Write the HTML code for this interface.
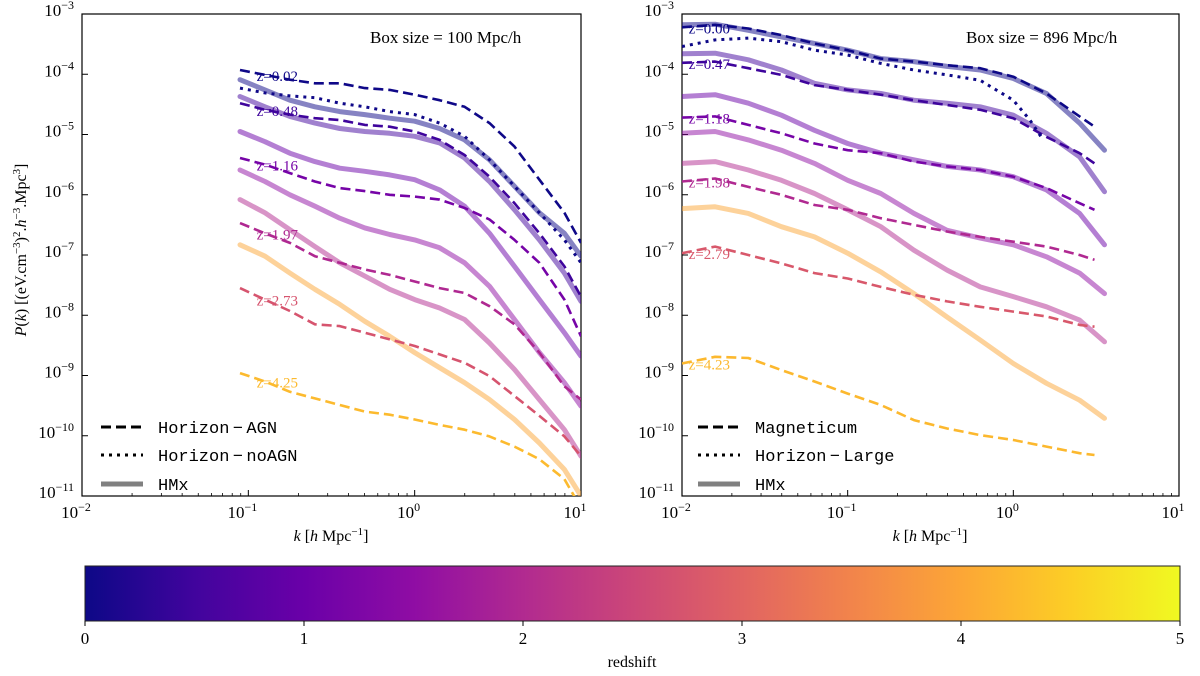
<!DOCTYPE html>
<html><head><meta charset="utf-8"><style>
body{margin:0;background:#fff;width:1200px;height:676px;overflow:hidden}
svg{display:block}
text{font-family:"Liberation Serif",serif}
.mono{font-family:"Liberation Mono",monospace}
</style></head><body>
<svg id="fig" width="1200" height="676" viewBox="0 0 1200 676" xmlns="http://www.w3.org/2000/svg">
<defs>
<linearGradient id="plasmaGrad" x1="0" x2="1" y1="0" y2="0">
<stop offset="0" stop-color="#0d0887"/><stop offset="0.1" stop-color="#41049d"/><stop offset="0.2" stop-color="#6a00a8"/><stop offset="0.3" stop-color="#8f0da4"/><stop offset="0.4" stop-color="#b12a90"/><stop offset="0.5" stop-color="#cc4778"/><stop offset="0.6" stop-color="#e16462"/><stop offset="0.7" stop-color="#f2844b"/><stop offset="0.8" stop-color="#fca636"/><stop offset="0.9" stop-color="#fcce25"/><stop offset="1" stop-color="#f0f921"/>
</linearGradient>
<clipPath id="clipL"><rect x="82" y="14" width="499" height="482"/></clipPath>
<clipPath id="clipR"><rect x="682" y="14" width="497" height="482"/></clipPath>
</defs>
<g id="left"></g>
<g id="right"></g>
<text x="0" y="0" transform="translate(26,250) rotate(-90)" text-anchor="middle" font-size="16"><tspan font-style="italic">P</tspan>(<tspan font-style="italic">k</tspan>) [(eV.cm<tspan dy="-6" font-size="11">−3</tspan><tspan dy="6">)</tspan><tspan dy="-6" font-size="11">2</tspan><tspan dy="6">.</tspan><tspan font-style="italic">h</tspan><tspan dy="-6" font-size="11">−3</tspan><tspan dy="6">.Mpc</tspan><tspan dy="-6" font-size="11">3</tspan><tspan dy="6">]</tspan></text>
<g id="cbar">
<rect x="85" y="566" width="1095" height="55" fill="url(#plasmaGrad)" stroke="#222" stroke-width="1"/>
</g>
<text x="632" y="667" text-anchor="middle" font-size="16">redshift</text>
</svg>
<script>
// ---- data (log10 values) ----
const kLeft = [-1.05,-0.9,-0.75,-0.6,-0.45,-0.3,-0.15,0,0.15,0.3,0.45,0.6,0.75,0.9,1.0];
const leftDashedZ = [0.02,0.48,1.16,1.97,2.73,4.25];
const leftDashed = [
 [-3.93,-4.01,-4.09,-4.15,-4.15,-4.23,-4.26,-4.34,-4.43,-4.54,-4.81,-5.20,-5.75,-6.30,-6.80],
 [-4.48,-4.59,-4.67,-4.73,-4.76,-4.84,-4.87,-4.95,-5.09,-5.34,-5.70,-6.14,-6.64,-7.19,-7.69],
 [-5.39,-5.50,-5.64,-5.78,-5.89,-5.94,-6.00,-6.03,-6.08,-6.22,-6.41,-6.75,-7.13,-7.74,-8.35],
 [-6.47,-6.64,-6.80,-7.02,-7.13,-7.24,-7.33,-7.44,-7.55,-7.63,-7.85,-8.15,-8.62,-9.18,-9.40],
 [-7.55,-7.74,-7.93,-8.15,-8.18,-8.29,-8.40,-8.51,-8.65,-8.79,-9.01,-9.34,-9.67,-10.01,-10.34],
 [-8.96,-9.10,-9.27,-9.38,-9.49,-9.60,-9.65,-9.73,-9.82,-9.90,-10.01,-10.18,-10.39,-10.72,-11.2]
];
const leftDottedZ = [0.02];
const leftDotted = [
 [-4.23,-4.31,-4.36,-4.39,-4.48,-4.54,-4.62,-4.67,-4.81,-5.03,-5.42,-5.86,-6.30,-6.75,-7.13]
];
const hmxZ = [0,0.5,1,1.5,2,4];
const leftHmx = [
 [-4.09,-4.26,-4.43,-4.54,-4.62,-4.67,-4.73,-4.78,-4.90,-5.09,-5.42,-5.86,-6.30,-6.64,-7.02],
 [-4.37,-4.54,-4.70,-4.81,-4.90,-4.95,-4.98,-5.03,-5.14,-5.39,-5.78,-6.25,-6.75,-7.30,-7.77],
 [-4.95,-5.12,-5.31,-5.45,-5.56,-5.61,-5.67,-5.75,-5.92,-6.19,-6.64,-7.19,-7.74,-8.29,-8.68],
 [-5.59,-5.78,-6.00,-6.19,-6.39,-6.55,-6.66,-6.75,-6.88,-7.13,-7.52,-8.07,-8.62,-9.12,-9.51],
 [-6.08,-6.30,-6.58,-6.86,-7.13,-7.35,-7.57,-7.74,-7.88,-8.07,-8.46,-8.90,-9.40,-9.90,-10.34],
 [-6.83,-7.02,-7.30,-7.57,-7.82,-8.10,-8.35,-8.62,-8.87,-9.12,-9.40,-9.73,-10.12,-10.56,-11.0]
];
const kRightHmx = [-2,-1.8,-1.6,-1.4,-1.2,-1.0,-0.8,-0.6,-0.4,-0.2,0,0.2,0.4,0.55];
const kRightSim = [-2,-1.8,-1.6,-1.4,-1.2,-1.0,-0.8,-0.6,-0.4,-0.2,0,0.2,0.4,0.49];
const kRightDot = [-2,-1.8,-1.6,-1.4,-1.2,-1.0,-0.8,-0.6,-0.4,-0.2,0,0.1,0.18];
const rightDashedZ = [0.00,0.47,1.18,1.98,2.79,4.23];
const rightDashed = [
 [-3.22,-3.18,-3.24,-3.35,-3.49,-3.60,-3.74,-3.79,-3.85,-3.90,-4.04,-4.32,-4.70,-4.87],
 [-3.81,-3.79,-3.90,-4.01,-4.18,-4.26,-4.34,-4.43,-4.51,-4.59,-4.73,-5.04,-5.31,-5.48],
 [-4.72,-4.70,-4.84,-4.98,-5.15,-5.26,-5.31,-5.45,-5.53,-5.59,-5.70,-5.89,-6.14,-6.25],
 [-5.78,-5.73,-5.87,-6.00,-6.17,-6.25,-6.39,-6.50,-6.61,-6.70,-6.78,-6.86,-7.00,-7.08],
 [-6.97,-6.86,-7.00,-7.14,-7.30,-7.39,-7.53,-7.66,-7.77,-7.86,-7.94,-8.02,-8.16,-8.19],
 [-8.80,-8.69,-8.71,-8.91,-9.10,-9.30,-9.49,-9.74,-9.88,-9.99,-10.07,-10.18,-10.29,-10.32]
];
const rightDottedZ = [0.00];
const rightDotted = [
 [-3.54,-3.43,-3.40,-3.46,-3.60,-3.68,-3.82,-3.93,-4.01,-4.10,-4.43,-4.76,-5.09]
];
const rightHmx = [
 [-3.18,-3.17,-3.27,-3.38,-3.49,-3.60,-3.74,-3.79,-3.87,-3.93,-4.07,-4.32,-4.81,-5.26],
 [-3.66,-3.65,-3.76,-3.93,-4.15,-4.26,-4.32,-4.43,-4.48,-4.54,-4.68,-4.98,-5.37,-5.95],
 [-4.37,-4.34,-4.48,-4.68,-4.93,-5.15,-5.31,-5.42,-5.53,-5.59,-5.70,-5.92,-6.31,-6.83],
 [-4.98,-4.95,-5.09,-5.26,-5.48,-5.76,-5.98,-6.31,-6.59,-6.72,-6.83,-7.03,-7.30,-7.64],
 [-5.48,-5.45,-5.59,-5.76,-5.98,-6.25,-6.53,-6.92,-7.25,-7.53,-7.69,-7.86,-8.08,-8.44],
 [-6.23,-6.20,-6.31,-6.53,-6.70,-6.97,-7.28,-7.64,-8.03,-8.41,-8.80,-9.13,-9.41,-9.71]
];
const xTickExp = [-2,-1,0,1];
const yTickExp = [-3,-4,-5,-6,-7,-8,-9,-10,-11];
const cbarTicks = [0,1,2,3,4,5];

const NS="http://www.w3.org/2000/svg";
const stops=["#0d0887","#41049d","#6a00a8","#8f0da4","#b12a90","#cc4778","#e16462","#f2844b","#fca636","#fcce25","#f0f921"];
function hex(c){return [1,3,5].map(i=>parseInt(c.substr(i,2),16));}
function plasma(t){t=Math.max(0,Math.min(1,t));const f=t*10,i=Math.min(9,Math.floor(f)),r=f-i;const a=hex(stops[i]),b=hex(stops[i+1]);return "rgb("+a.map((v,j)=>Math.round(v+(b[j]-v)*r)).join(",")+")";}
function mk(tag,attrs,parent){const e=document.createElementNS(NS,tag);for(const k in attrs)e.setAttribute(k,attrs[k]);parent.appendChild(e);return e;}

function panel(gid,x0,x1,y0,y1,xmin,xmax,clip){
  const g=document.getElementById(gid);
  const sx=v=>x0+(v-xmin)/(xmax-xmin)*(x1-x0);
  const sy=v=>y0+(-3-v)/8*(y1-y0);
  return {g,sx,sy,x0,x1,y0,y1,xmin,xmax,clip};
}
function drawAxes(P){
  const {g,sx,sy,x0,x1,y0,y1,xmin,xmax}=P;
  const fr=mk('rect',{x:x0,y:y0,width:x1-x0,height:y1-y0,fill:'none',stroke:'#000','stroke-width':1.2},g);
  
  
  for(const e of xTickExp){
    if(e<xmin||e>xmax)continue;
    const x=sx(e);
    const t=mk('line',{x1:x,x2:x,y1:y1,y2:y1-6,stroke:'#000','stroke-width':1},g);
    
    
    const tx=mk('text',{x:x-6,y:y1+22,'text-anchor':'middle','font-size':17},g);
    
    
    tx.innerHTML='10<tspan dy="-7" font-size="12">'+(e<0?'−'+(-e):e)+'</tspan>';
    if(e<xmax) for(let m=2;m<10;m++){const xm=sx(e+Math.log10(m));
      const mt=mk('line',{x1:xm,x2:xm,y1:y1,y2:y1-3,stroke:'#000','stroke-width':0.8},g);
      
      }
  }
  for(const e of yTickExp){
    const y=sy(e);
    const t=mk('line',{x1:x0,x2:x0+6,y1:y,y2:y,stroke:'#000','stroke-width':1},g);
    
    
    const tx=mk('text',{x:x0-8,y:y+2,'text-anchor':'end','font-size':17},g);
    
    
    tx.innerHTML='10<tspan dy="-7" font-size="12">−'+(-e)+'</tspan>';
    if(e>-3) for(let m=2;m<10;m++){const ym=sy(e+Math.log10(m));
      const mt=mk('line',{x1:x0,x2:x0+3,y1:ym,y2:ym,stroke:'#000','stroke-width':0.8},g);
      
      }
  }
}
function line(P,ks,vals,color,style,name){
  const d=ks.map((k,i)=>(i?'L':'M')+P.sx(k).toFixed(1)+','+P.sy(vals[i]).toFixed(1)).join('');
  const a={d,fill:'none',stroke:color,'clip-path':'url(#'+P.clip+')','stroke-linejoin':'round'};
  if(style==='dash'){a['stroke-width']=2.6;a['stroke-dasharray']='10,5';}
  else if(style==='dot'){a['stroke-width']=3;a['stroke-dasharray']='3,5';}
  else {a['stroke-width']=5;a['stroke-opacity']=0.5;a['stroke-linecap']='round';}
  const p=mk('path',a,P.g);
  
  
}
function zlabel(P,k,v,z){
  const t=mk('text',{x:P.sx(k),y:P.sy(v)+6,'font-size':15,style:'fill:'+plasma(z/5)},P.g);
  
  
  t.textContent='z='+z.toFixed(2);
}
function legend(P,x,ys,labels){
  const styles=['dash','dot','hmx'];
  styles.forEach((s,i)=>{
    const a={x1:x,x2:x+42,y1:ys[i],y2:ys[i],stroke:'#000'};
    if(s==='dash'){a['stroke-width']=3;a['stroke-dasharray']='10,5';}
    else if(s==='dot'){a['stroke-width']=3;a['stroke-dasharray']='3,5';}
    else {a['stroke-width']=5;a.stroke='#808080';}
    const l=mk('line',a,P.g);
    
    
    const t=mk('text',{x:x+57,y:ys[i]+6,'font-size':17,'class':'mono'},P.g);
    
    
    t.textContent=labels[i];
  });
}

const L=panel('left',82,581,14,496,-2,1,'clipL');
const R=panel('right',682,1179,14,496,-2,1,'clipR');
drawAxes(L);drawAxes(R);
leftHmx.forEach((v,i)=>line(L,kLeft,v,plasma(hmxZ[i]/5),'hmx','hmx-line'));
leftDashed.forEach((v,i)=>line(L,kLeft,v,plasma(leftDashedZ[i]/5),'dash','horizon-agn-line'));
leftDotted.forEach((v,i)=>line(L,kLeft,v,plasma(leftDottedZ[i]/5),'dot','horizon-noagn-line'));
leftDashed.forEach((v,i)=>zlabel(L,-0.95,v[1],leftDashedZ[i]));
rightHmx.forEach((v,i)=>line(R,kRightHmx,v,plasma(hmxZ[i]/5),'hmx','hmx-line'));
rightDashed.forEach((v,i)=>line(R,kRightSim,v,plasma(rightDashedZ[i]/5),'dash','magneticum-line'));
rightDotted.forEach((v,i)=>line(R,kRightDot,v,plasma(rightDottedZ[i]/5),'dot','horizon-large-line'));
rightDashed.forEach((v,i)=>zlabel(R,-1.96,v[0],rightDashedZ[i]));
legend(L,101,[427,455,484],['Horizon\u2009\u2212\u2009AGN','Horizon\u2009\u2212\u2009noAGN','HMx']);
legend(R,698,[427,455,484],['Magneticum','Horizon\u2009\u2212\u2009Large','HMx']);

function boxText(P,x,label){
  const t=mk('text',{x:x,y:43,'font-size':17},P.g);
  
  
  t.textContent=label;
}
boxText(L,370,'Box size = 100 Mpc/h');
boxText(R,966,'Box size = 896 Mpc/h');
[[L,331],[R,930]].forEach(([P,cx])=>{
  const t=mk('text',{x:cx,y:541,'text-anchor':'middle','font-size':16},P.g);
  
  
  t.innerHTML='<tspan font-style="italic">k</tspan> [<tspan font-style="italic">h</tspan> Mpc<tspan dy="-6" font-size="11">−1</tspan><tspan dy="6">]</tspan>';
});
const cb=document.getElementById('cbar');
cbarTicks.forEach(v=>{
  const x=85+v/5*1095;
  const t=mk('line',{x1:x,x2:x,y1:621,y2:626,stroke:'#000','stroke-width':1},cb);
  
  
  const tx=mk('text',{x:x,y:644,'text-anchor':'middle','font-size':17},cb);
  
  
  tx.textContent=v;
});
</script>
</body></html>
